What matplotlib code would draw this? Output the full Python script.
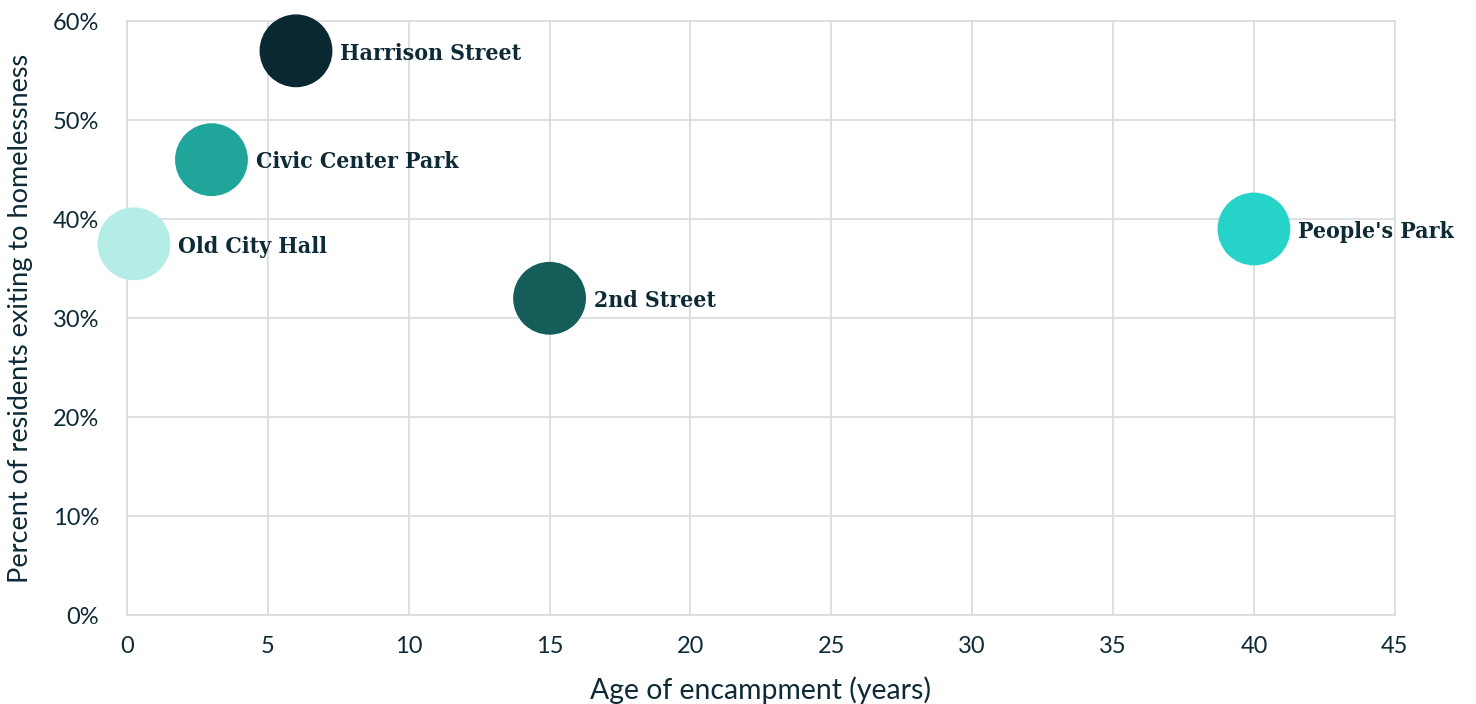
import matplotlib
matplotlib.use("Agg")
import matplotlib.pyplot as plt
from matplotlib.ticker import PercentFormatter

# encampment data
names = ["Harrison Street", "Civic Center Park", "Old City Hall", "2nd Street", "People's Park"]
age_years = [6, 3, 0.25, 15, 40]
pct_homeless = [57, 46, 37.5, 32, 39]
colors = ["#0a2832", "#1fa59a", "#b4ece6", "#145d58", "#26d3c8"]

x_ticks = [0, 5, 10, 15, 20, 25, 30, 35, 40, 45]
y_ticks = [0, 10, 20, 30, 40, 50, 60]

txt = "#0d2a36"
grid = "#d9dce1"
plt.rcParams['font.family'] = ['Lato', 'DejaVu Sans']

fig = plt.figure(figsize=(14.76, 7.04), dpi=100)
ax = fig.add_axes([0.086, 0.1264, 0.859, 0.8436])

ax.scatter(age_years, pct_homeless, s=2750, c=colors, linewidths=0, zorder=3, clip_on=False)
for n, xv, yv in zip(names, age_years, pct_homeless):
    ax.annotate(n, (xv, yv), xytext=(32, -2), textcoords="offset points",
                va="center", ha="left", fontsize=16.5, color=txt,
                family="DejaVu Serif", stretch="condensed", fontweight="bold", zorder=4)

ax.set_xlim(0, 45)
ax.set_ylim(0, 60)
ax.set_xticks(x_ticks)
ax.set_yticks(y_ticks)
ax.yaxis.set_major_formatter(PercentFormatter(decimals=0))
ax.grid(True, color=grid, linewidth=1.3)
ax.set_axisbelow(True)
for sp in ax.spines.values():
    sp.set_color(grid)
    sp.set_linewidth(1.3)
ax.tick_params(length=0, labelsize=17, colors=txt)
ax.tick_params(axis="x", pad=15)
ax.tick_params(axis="y", pad=20)

ax.set_xlabel("Age of encampment (years)", fontsize=20.4, color=txt, labelpad=14)
ax.set_ylabel("Percent of residents exiting to homelessness", fontsize=19.5, color=txt, labelpad=14)

fig.savefig("out.png", dpi=100)
